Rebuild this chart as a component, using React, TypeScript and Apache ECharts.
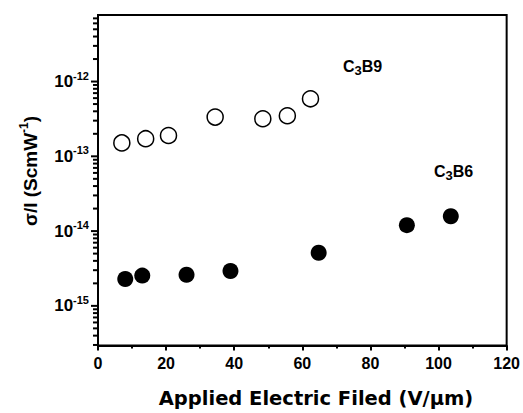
import React, { useEffect, useRef } from "react";
import * as echarts from "echarts";

const xTicks = [0, 20, 40, 60, 80, 100, 120];
const yDecades = [-15, -14, -13, -12];
const c3b9X = [7.0, 14.0, 20.7, 34.4, 48.4, 55.6, 62.4];
const c3b9Y = [1.51e-13, 1.72e-13, 1.9e-13, 3.35e-13, 3.18e-13, 3.49e-13, 5.88e-13];
const c3b6X = [8.0, 13.0, 26.0, 38.9, 64.8, 90.7, 103.6];
const c3b6Y = [2.29e-15, 2.54e-15, 2.61e-15, 2.93e-15, 5.14e-15, 1.2e-14, 1.58e-14];

const Y_MIN = -15.53;
const Y_MAX = -11.11;

export default function App() {
  const ref = useRef<HTMLDivElement>(null);
  useEffect(() => {
    if (!ref.current) return;
    const chart = echarts.init(ref.current, undefined, { renderer: "svg" });
    const tickData: number[][] = yDecades.map((d) => [0, d, 6]);
    for (let d = -16; d <= -12; d++) {
      for (let k = 2; k <= 9; k++) {
        const v = d + Math.log10(k);
        if (v > Y_MIN && v < Y_MAX) tickData.push([0, v, 4]);
      }
    }
    const font = "Liberation Sans, Arial, sans-serif";
    const wide = "DejaVu Sans, sans-serif";
    const toLog = (xs: number[], ys: number[]) => xs.map((x, i) => [x, Math.log10(ys[i])]);
    chart.setOption({
      animation: false,
      grid: { left: 98, top: 15, right: 16, bottom: 67.5, show: true, borderColor: "#000", borderWidth: 2 },
      xAxis: {
        type: "value",
        min: xTicks[0],
        max: xTicks[xTicks.length - 1],
        interval: 20,
        axisLine: { show: true, lineStyle: { color: "#000", width: 2 } },
        axisTick: { show: true, length: 5, lineStyle: { color: "#000", width: 2 } },
        minorTick: { show: true, splitNumber: 2, length: 3, lineStyle: { color: "#000", width: 2 } },
        splitLine: { show: false },
        axisLabel: { color: "#000", fontSize: 16, fontWeight: "bold", fontFamily: font, margin: 10 },
      },
      yAxis: {
        type: "value",
        min: Y_MIN,
        max: Y_MAX,
        axisLine: { show: true, lineStyle: { color: "#000", width: 2 } },
        axisTick: { show: false },
        splitLine: { show: false },
        axisLabel: {
          customValues: yDecades,
          margin: 9,
          formatter: (v: number) => `{b|10}{s|${Math.round(v)}}`,
          rich: {
            b: { fontSize: 17, fontWeight: "bold", fontFamily: font, color: "#000" },
            s: { fontSize: 11, fontWeight: "bold", fontFamily: font, color: "#000", padding: [0, 0, 12, 0] },
          },
        },
      },
      series: [
        {
          name: "yTicks",
          type: "custom",
          silent: true,
          clip: false,
          data: tickData,
          z: 10,
          renderItem: (params: any, api: any) => {
            const p = api.coord([api.value(0), api.value(1)]);
            const len = api.value(2);
            return {
              type: "line",
              shape: { x1: p[0] - 1 - len, y1: p[1], x2: p[0], y2: p[1] },
              style: { stroke: "#000", lineWidth: 2 },
            };
          },
        },
        {
          name: "C3B9",
          type: "scatter",
          data: toLog(c3b9X, c3b9Y),
          symbol: "circle",
          symbolSize: 16,
          itemStyle: { color: "#fff", borderColor: "#000", borderWidth: 1.5, opacity: 1 },
        },
        {
          name: "C3B6",
          type: "scatter",
          data: toLog(c3b6X, c3b6Y),
          symbol: "circle",
          symbolSize: 16,
          itemStyle: { color: "#000", opacity: 1 },
        },
      ],
      graphic: [
        {
          type: "text",
          x: 30,
          y: 171,
          rotation: Math.PI / 2,
          style: {
            text: "{a|\u03c3/I (ScmW}{s|-1}{a|)}",
            align: "center",
            verticalAlign: "middle",
            rich: {
              a: { fontSize: 19, fontWeight: "bold", fontFamily: font, fill: "#000" },
              s: { fontSize: 12, fontWeight: "bold", fontFamily: font, fill: "#000", padding: [0, 0, 12, 0] },
            },
          },
        },
        {
          type: "text",
          x: 316,
          y: 398,
          style: {
            text: "Applied Electric Filed (V/\u03bcm)",
            align: "center",
            verticalAlign: "middle",
            fontSize: 19.5,
            fontWeight: "bold",
            fontFamily: wide,
            fill: "#000",
          },
        },
        {
          type: "text",
          x: 343,
          y: 66,
          style: {
            text: "{a|C}{s|3}{a|B9}",
            align: "left",
            verticalAlign: "middle",
            rich: {
              a: { fontSize: 16, fontWeight: "bold", fontFamily: font, fill: "#000" },
              s: { fontSize: 13, fontWeight: "bold", fontFamily: font, fill: "#000", padding: [9, 0, 0, 0] },
            },
          },
        },
        {
          type: "text",
          x: 434,
          y: 171,
          style: {
            text: "{a|C}{s|3}{a|B6}",
            align: "left",
            verticalAlign: "middle",
            rich: {
              a: { fontSize: 16, fontWeight: "bold", fontFamily: font, fill: "#000" },
              s: { fontSize: 13, fontWeight: "bold", fontFamily: font, fill: "#000", padding: [9, 0, 0, 0] },
            },
          },
        },
      ],
    });
    return () => chart.dispose();
  }, []);
  return <div ref={ref} style={{ position: "fixed", left: 0, top: 0, width: 523, height: 413, background: "#fff" }} />;
}
